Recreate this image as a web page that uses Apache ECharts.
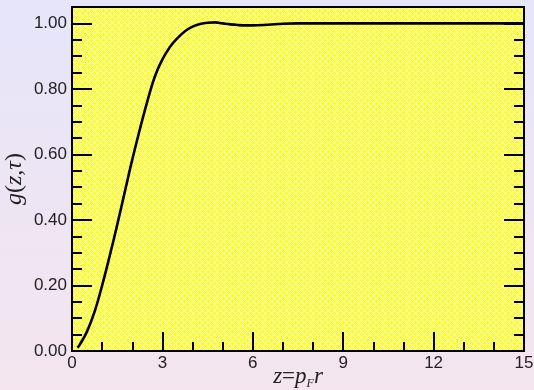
<!DOCTYPE html>
<html>
<head>
<meta charset="utf-8">
<script src="https://cdn.jsdelivr.net/npm/echarts@6/dist/echarts.min.js"></script>
<style>
  html, body { margin: 0; padding: 0; }
  #chart { width: 534px; height: 390px; }
</style>
</head>
<body>
<div id="chart"></div>
<script>
// Pair correlation g(z, tau) sampled along z = p_F r
const zValues = [0.18, 0.25, 0.5, 0.75, 1.0, 1.25, 1.5, 1.75, 2.0, 2.25, 2.5, 2.75, 3.0, 3.25, 3.5, 3.75, 4.0, 4.25, 4.5, 4.75, 5.0, 5.25, 5.5, 5.75, 6.0, 6.5, 7.0, 7.5, 8, 9, 10, 11, 12, 13, 14, 15];
const gValues = [0.01, 0.018, 0.06, 0.12, 0.2, 0.29, 0.385, 0.485, 0.584, 0.676, 0.762, 0.838, 0.89, 0.928, 0.955, 0.976, 0.99, 0.998, 1.002, 1.003, 1.0, 0.997, 0.995, 0.994, 0.994, 0.996, 0.999, 1.0, 1.0, 1.0, 1.0, 1.0, 1.0, 1.0, 1.0, 1.0];
const xTicks = [0, 3, 6, 9, 12, 15];
const yTicks = [0, 0.2, 0.4, 0.6, 0.8, 1.0];

// checkered yellow fill for the plotting area
function checkerPattern() {
  const c = document.createElement('canvas');
  c.width = 6; c.height = 6;
  const ctx = c.getContext('2d');
  ctx.fillStyle = '#fbfb3c';
  ctx.fillRect(0, 0, 6, 6);
  ctx.fillStyle = '#ffffc8';
  const light = [[0, 0], [2, 0], [1, 1], [0, 2], [2, 2], [3, 3], [5, 3], [4, 4], [3, 5], [5, 5]];
  light.forEach(([i, j]) => ctx.fillRect(i, j, 1, 1));
  return { image: c, repeat: 'repeat' };
}

const points = zValues.map((z, i) => [z, gValues[i]]);
const labelFont = { fontFamily: '"Liberation Sans", Arial, sans-serif', fontSize: 17, color: '#222' };
const axisLine = { show: true, lineStyle: { color: '#000', width: 2 } };
const serif = '"Liberation Serif", "Times New Roman", serif';

const chart = echarts.init(document.getElementById('chart'));
chart.setOption({
  backgroundColor: {
    type: 'linear', x: 0, y: 0, x2: 0, y2: 1,
    colorStops: [{ offset: 0, color: '#e6e5fa' }, { offset: 1, color: '#f4e5ee' }]
  },
  animation: false,
  grid: {
    left: 72, right: 10, top: 7, bottom: 39,
    outerBoundsMode: 'none',
    containLabel: false,
    show: true,
    backgroundColor: checkerPattern(),
    borderColor: '#000', borderWidth: 2
  },
  xAxis: {
    type: 'value', min: 0, max: 15, interval: 3,
    axisLine: axisLine,
    axisTick: { inside: true, length: 19, lineStyle: { color: '#000', width: 2 } },
    minorTick: { show: true, splitNumber: 3, length: 9, lineStyle: { color: '#000', width: 2 } },
    splitLine: { show: false },
    axisLabel: Object.assign({ margin: 4, formatter: v => xTicks.includes(v) ? String(v) : '' }, labelFont),
    name: '{i|z}{n|=}{i|p}{s|F}{i|r}',
    nameLocation: 'middle', nameGap: 13,
    nameMoveOverlap: false,
    nameTextStyle: {
      fontFamily: serif, fontSize: 23, color: '#222',
      rich: {
        i: { fontFamily: serif, fontStyle: 'italic', fontSize: 23, lineHeight: 26, color: '#222' },
        n: { fontFamily: serif, fontSize: 23, lineHeight: 26, color: '#222' },
        s: { fontFamily: serif, fontStyle: 'italic', fontSize: 12, lineHeight: 12, color: '#222', padding: [13, 0, 0, 0] }
      }
    }
  },
  yAxis: [{
    type: 'value', min: 0, max: 1.05, interval: 0.2, position: 'left',
    axisLine: axisLine,
    axisTick: { inside: true, length: 20, lineStyle: { color: '#000', width: 2 } },
    minorTick: { show: true, splitNumber: 4, length: 10, lineStyle: { color: '#000', width: 2 } },
    splitLine: { show: false },
    axisLabel: Object.assign({
      margin: 5,
      formatter: v => yTicks.some(t => Math.abs(t - v) < 1e-6) ? v.toFixed(2) : ''
    }, labelFont),
    name: '{i|g}({i|z},{i|τ})',
    nameLocation: 'middle', nameGap: 45,
    nameMoveOverlap: false,
    nameTextStyle: {
      fontFamily: serif, fontSize: 24, color: '#222',
      rich: { i: { fontFamily: serif, fontStyle: 'italic', fontSize: 24, color: '#222' } }
    }
  }, {
    type: 'value', min: 0, max: 1.05, interval: 0.2, position: 'right',
    axisLine: axisLine,
    axisTick: { inside: true, length: 20, lineStyle: { color: '#000', width: 2 } },
    minorTick: { show: true, splitNumber: 4, length: 10, lineStyle: { color: '#000', width: 2 } },
    splitLine: { show: false },
    axisLabel: { show: false }
  }],
  series: [{
    type: 'line',
    data: points,
    yAxisIndex: 0,
    smooth: 0.4,
    showSymbol: false,
    lineStyle: { color: '#000', width: 2.6 }
  }]
});
</script>
</body>
</html>
